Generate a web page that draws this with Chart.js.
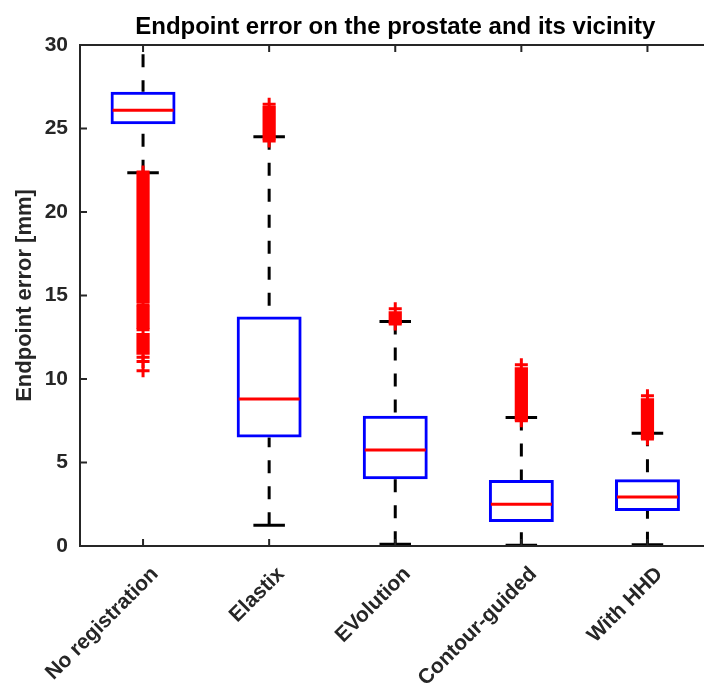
<!DOCTYPE html>
<html>
<head>
<meta charset="utf-8">
<script src="https://cdn.jsdelivr.net/npm/chart.js@4/dist/chart.umd.min.js"></script>
<style>
  body { margin: 0; overflow: hidden; background: #fff; }
</style>
</head>
<body>
<canvas id="boxChart" width="720" height="686"></canvas>
<script>
// data (mm)
const categories = ["No registration", "Elastix", "EVolution", "Contour-guided", "With HHD"];
const q1 = [25.25, 6.5, 4.0, 1.43, 2.1];
const medians = [26.1, 8.8, 5.75, 2.5, 2.93];
const q3 = [27.2, 13.75, 7.8, 3.95, 4.0];
const whiskerLow = [22.35, 1.25, 0.1, 0.05, 0.08];
const whiskerHigh = [31, 24.5, 13.45, 7.7, 6.75];
// dense runs of outliers (they merge into solid red bands)
const outlierBands = [
  [[14.55, 22.35], [13.0, 14.4], [11.45, 12.75]],
  [[24.3, 26.35]],
  [[13.3, 14.05]],
  [[7.5, 10.7]],
  [[6.4, 8.85]],
];
// single visible outlier marks
const outliers = [
  [22.4, 14.45, 12.95, 11.3, 11.05, 10.5],
  [26.45, 24.25],
  [14.2, 13.3],
  [10.85, 7.5],
  [9.0, 6.4],
];
const yTicks = [0, 5, 10, 15, 20, 25, 30];

const axisColor = "#262626";
const font = "Liberation Sans, Arial, Helvetica, sans-serif";

//datasets
const bandSets = [0, 1, 2].map((k) => ({
  type: "bar",
  data: outlierBands.map((b) => (b[k] ? b[k] : null)),
  backgroundColor: "#ff0000",
  borderWidth: 0,
  barPercentage: 0.105,
  categoryPercentage: 1,
  grouped: false,
  order: 1,
}));

const crossPoints = [];
outliers.forEach((list, i) => list.forEach((v) => crossPoints.push({ x: categories[i], y: v })));

//whiskers, medians, frame and title
const boxParts = {
  id: "boxParts",
  beforeDatasetsDraw(chart) {
    const { ctx, chartArea } = chart;
    const x = chart.scales.x;
    const y = chart.scales.y;
    const capHalf = x.width / categories.length * 0.125;
    ctx.save();
    ctx.beginPath();
    ctx.rect(chartArea.left, chartArea.top, chartArea.right - chartArea.left, chartArea.bottom - chartArea.top);
    ctx.clip();
    ctx.strokeStyle = "#000";
    ctx.lineWidth = 3;
    categories.forEach((c, i) => {
      const px = x.getPixelForValue(i);
      ctx.setLineDash([13, 13]);
      ctx.beginPath();
      ctx.moveTo(px, y.getPixelForValue(whiskerHigh[i]));
      ctx.lineTo(px, y.getPixelForValue(q3[i]));
      ctx.moveTo(px, y.getPixelForValue(whiskerLow[i]));
      ctx.lineTo(px, y.getPixelForValue(q1[i]));
      ctx.stroke();
      ctx.setLineDash([]);
      ctx.beginPath();
      [whiskerHigh[i], whiskerLow[i]].forEach((v) => {
        const py = y.getPixelForValue(v);
        ctx.moveTo(px - capHalf, py);
        ctx.lineTo(px + capHalf, py);
      });
      ctx.stroke();
    });
    ctx.restore();
  },
  afterDatasetsDraw(chart) {
    const { ctx } = chart;
    const x = chart.scales.x;
    const y = chart.scales.y;
    const half = x.width / categories.length * 0.515 / 2;
    ctx.save();
    ctx.strokeStyle = "#ff0000";
    ctx.lineWidth = 3;
    medians.forEach((m, i) => {
      const px = x.getPixelForValue(i);
      const py = y.getPixelForValue(m);
      ctx.beginPath();
      ctx.moveTo(px - half + 2, py);
      ctx.lineTo(px + half - 2, py);
      ctx.stroke();
    });
    ctx.restore();
  },
  afterDraw(chart) {
    const { ctx, chartArea } = chart;
    const x = chart.scales.x;
    const y = chart.scales.y;
    ctx.save();
    ctx.strokeStyle = axisColor;
    ctx.lineWidth = 2;
    ctx.beginPath();
    ctx.rect(chartArea.left, chartArea.top, chartArea.right - chartArea.left, chartArea.bottom - chartArea.top);
    // inward ticks
    yTicks.forEach((t) => {
      const py = y.getPixelForValue(t);
      ctx.moveTo(chartArea.left, py);
      ctx.lineTo(chartArea.left + 7, py);
    });
    categories.forEach((c, i) => {
      const px = x.getPixelForValue(i);
      ctx.moveTo(px, chartArea.bottom);
      ctx.lineTo(px, chartArea.bottom - 7);
      ctx.moveTo(px, chartArea.top);
      ctx.lineTo(px, chartArea.top + 7);
    });
    ctx.stroke();
    ctx.fillStyle = "#000";
    ctx.font = "bold 24px " + font;
    ctx.textAlign = "center";
    ctx.textBaseline = "alphabetic";
    ctx.fillText("Endpoint error on the prostate and its vicinity", (chartArea.left + chartArea.right) / 2, 34);
    ctx.restore();
  },
};

const ctx = document.getElementById("boxChart").getContext("2d");
const myChart = new Chart(ctx, {
  type: "bar",
  data: {
    labels: categories,
    datasets: [
      {
        type: "scatter",
        data: crossPoints,
        pointStyle: "cross",
        radius: 6.5,
        borderWidth: 3,
        borderColor: "#ff0000",
        backgroundColor: "#ff0000",
        order: 0,
      },
      ...bandSets,
      {
        type: "bar",
        data: categories.map((c, i) => [q1[i], q3[i]]),
        backgroundColor: "rgba(0,0,0,0)",
        borderColor: "#0000ff",
        borderWidth: 3,
        borderSkipped: false,
        barPercentage: 0.515,
        categoryPercentage: 1,
        grouped: false,
        order: 2,
      },
    ],
  },
  options: {
    responsive: false,
    animation: false,
    layout: { padding: { top: 45, right: 8, left: 0, bottom: 0 } },
    plugins: {
      legend: { display: false },
      tooltip: { enabled: false },
      title: { display: false },
    },
    scales: {
      x: {
        type: "category",
        offset: true,
        grid: { display: false, drawTicks: false },
        border: { display: false },
        ticks: {
          minRotation: 45,
          maxRotation: 45,
          padding: 16,
          labelOffset: 12,
          color: axisColor,
          font: { family: font, size: 21, weight: "bold" },
        },
        afterFit(scale) {
          scale.height = 140;
        },
      },
      y: {
        min: 0,
        max: 30,
        grid: { display: false, drawTicks: false },
        border: { display: false },
        ticks: {
          stepSize: 5,
          padding: 12,
          color: axisColor,
          font: { family: font, size: 21, weight: "bold" },
        },
        title: {
          display: true,
          text: "Endpoint error [mm]",
          color: axisColor,
          padding: { top: 12, bottom: 0 },
          font: { family: font, size: 22, weight: "bold" },
        },
        afterFit(scale) {
          scale.width = 80;
        },
      },
    },
  },
  plugins: [boxParts],
});
</script>
</body>
</html>
